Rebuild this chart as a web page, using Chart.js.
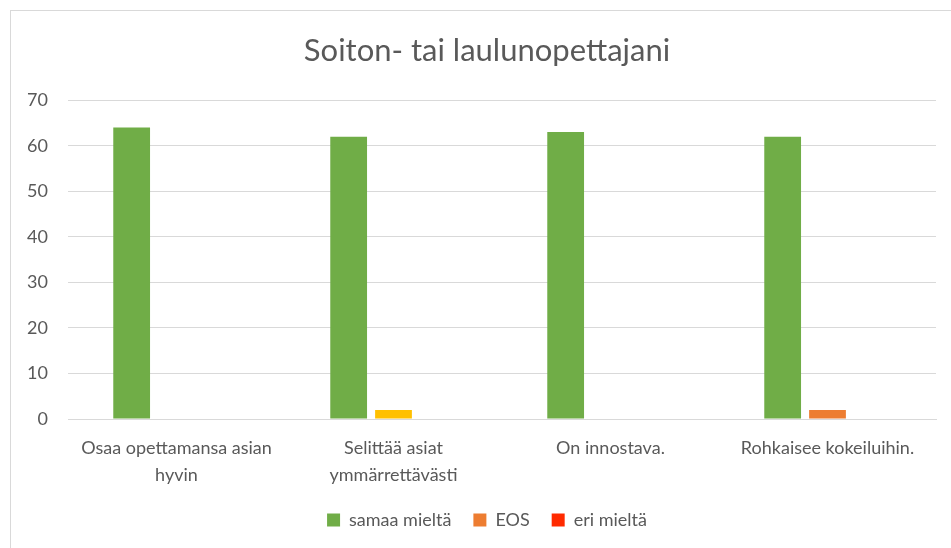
<!DOCTYPE html>
<html>
<head>
<meta charset="utf-8">
<script src="https://cdn.jsdelivr.net/npm/chart.js@4"></script>
<style>
  html, body { margin: 0; padding: 0; background: #fff; overflow: hidden; }
  .frame {
    position: absolute; left: 10px; top: 10px; width: 980px; height: 600px;
    border-left: 1px solid #d9d9d9; border-top: 1px solid #d9d9d9;
  }
  .chart-container { position: absolute; left: 0; top: 0; width: 952px; height: 537px; }
</style>
</head>
<body>
<div class="frame">
  <div class="chart-container"><canvas id="chart"></canvas></div>
</div>
<script>
// Chart data
const categories = [
  ["Osaa opettamansa asian", "hyvin"],
  ["Selittää asiat", "ymmärrettävästi"],
  "On innostava.",
  "Rohkaisee kokeiluihin."
];
const seriesNames = ["samaa mieltä", "EOS", "eri mieltä"];
const samaaMielta = [64, 62, 63, 62];
const eos = [0, 2, 0, 2];
const eriMielta = [0, 0, 0, 0];
const yTicks = [0, 10, 20, 30, 40, 50, 60, 70];

const textColor = "#595959";
const fontFamily = "Lato, 'Open Sans', sans-serif";

const ctx = document.getElementById("chart").getContext("2d");
new Chart(ctx, {
  type: "bar",
  data: {
    labels: categories,
    datasets: [
      { label: seriesNames[0], data: samaaMielta, backgroundColor: "#70AD47" },
      {
        label: seriesNames[1],
        data: eos,
        // the second category's point is coloured differently in the original
        backgroundColor: ["#ED7D31", "#FFC000", "#ED7D31", "#ED7D31"],
      },
      { label: seriesNames[2], data: eriMielta, backgroundColor: "#FF2A00" },
    ],
  },
  options: {
    responsive: true,
    maintainAspectRatio: false,
    animation: false,
    categoryPercentage: 0.62,
    barPercentage: 0.82,
    layout: { padding: { left: 0, right: 0, top: 0, bottom: 9 } },
    plugins: {
      title: {
        display: true,
        text: "Soiton- tai laulunopettajani",
        color: textColor,
        font: { family: fontFamily, size: 31, weight: "normal" },
        padding: { top: 21, bottom: 31 },
      },
      legend: {
        position: "bottom",
        labels: {
          color: textColor,
          font: { family: fontFamily, size: 18 },
          boxWidth: 13,
          boxHeight: 13,
          padding: 22,
          // legend swatch for EOS uses the series colour, not the per-point one
          generateLabels: function (chart) {
            const colors = ["#70AD47", "#ED7D31", "#FF2A00"];
            return chart.data.datasets.map((ds, i) => ({
              text: ds.label,
              fillStyle: colors[i],
              strokeStyle: colors[i],
              lineWidth: 0,
              fontColor: textColor,
              datasetIndex: i,
              hidden: false,
            }));
          },
        },
      },
      tooltip: { enabled: false },
    },
    scales: {
      x: {
        grid: { display: false },
        border: { display: true, color: "#d9d9d9" },
        ticks: {
          color: textColor,
          font: { family: fontFamily, size: 18, lineHeight: 1.5 },
          maxRotation: 0,
          autoSkip: false,
          padding: 8,
        },
        afterFit: function (scale) {
          scale.height = 70;
        },
      },
      y: {
        min: 0,
        max: 70,
        afterBuildTicks: function (scale) {
          scale.ticks = yTicks.map((v) => ({ value: v }));
        },
        grid: { color: "#d9d9d9", drawTicks: false },
        border: { display: false },
        ticks: {
          color: textColor,
          font: { family: fontFamily, size: 18 },
          padding: 20,
        },
        afterFit: function (scale) {
          scale.width = 57;
        },
      },
      // empty right-hand axis, only keeps a margin so the title stays centred on the whole chart
      yRight: {
        position: "right",
        min: 0,
        max: 70,
        grid: { display: false },
        border: { display: false },
        ticks: { display: false },
        afterFit: function (scale) {
          scale.width = 27;
        },
      },
    },
  },
});
</script>
</body>
</html>
